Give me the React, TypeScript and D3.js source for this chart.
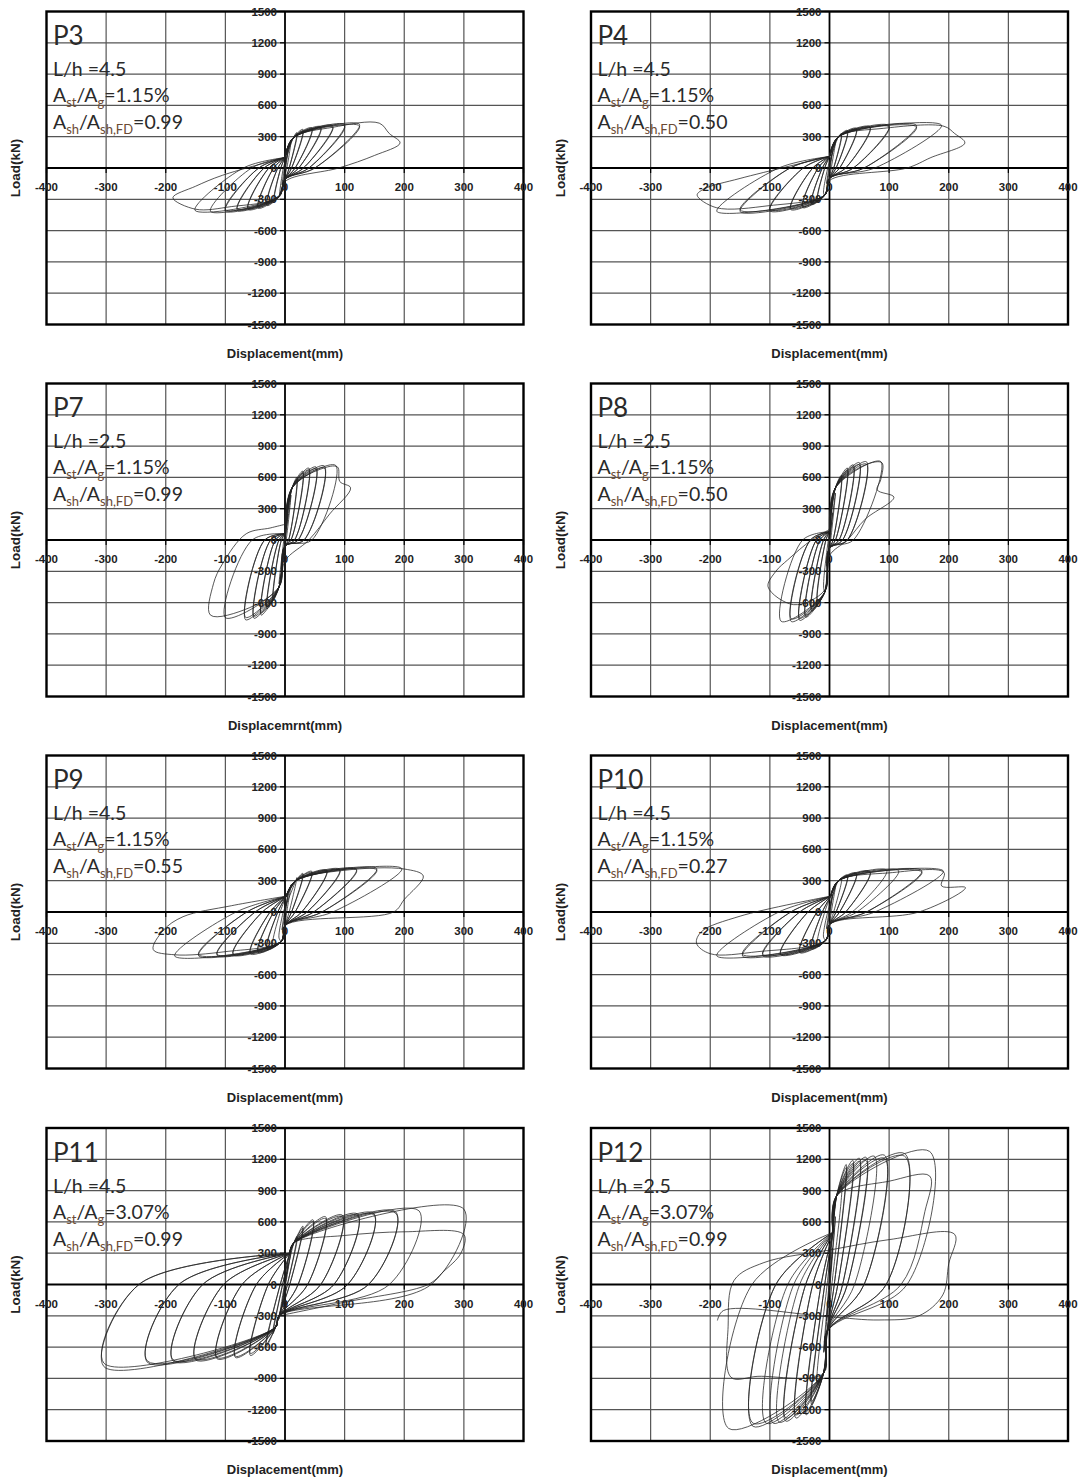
import React from "react";
import * as d3 from "d3";

type Pt = [number, number];
// [peak disp +, peak load +, zero-load disp after unloading +, peak disp -, peak load -, zero-load disp after unloading -]
type Cycle = [number, number, number, number, number, number];

const dispTicks = [-400, -300, -200, -100, 0, 100, 200, 300, 400];
const loadTicks = [-1500, -1200, -900, -600, -300, 0, 300, 600, 900, 1200, 1500];

const specimens = ["P3", "P4", "P7", "P8", "P9", "P10", "P11", "P12"];
const slenderness = ["4.5", "4.5", "2.5", "2.5", "4.5", "4.5", "4.5", "2.5"];
const steelRatio = ["1.15%", "1.15%", "1.15%", "1.15%", "1.15%", "1.15%", "3.07%", "3.07%"];
const hoopRatio = ["0.99", "0.50", "0.99", "0.50", "0.55", "0.27", "0.99", "0.99"];
const xTitles = [
  "Displacement(mm)", "Displacement(mm)",
  "Displacemrnt(mm)", "Displacement(mm)",
  "Displacement(mm)", "Displacement(mm)",
  "Displacement(mm)", "Displacement(mm)",
];

// pinch point +, knee +, pinch point -, knee -  (disp, load)
const p3Spine = [0, 100, 14, 290, 0, -110, -10, -270];
const p4Spine = [0, 110, 15, 300, 0, -100, -8, -260];
const p7Spine = [0, 60, 12, 500, 0, -60, -10, -450];
const p8Spine = [0, 80, 10, 500, 0, -80, -8, -500];
const p9Spine = [2, 150, 18, 300, 0, -130, -6, -280];
const p10Spine = [2, 150, 15, 300, 0, -120, -6, -270];
const p11Spine = [8, 300, 15, 400, -10, -300, -16, -410];
const p12Spine = [6, 500, 12, 850, -4, -450, -10, -850];

const p3Cycles: Cycle[] = [
  [5, 170, 1, -5, -160, -1], [10, 260, 3, -9, -250, -3],
  [20, 340, 7, -18, -320, -7], [20, 325, 7, -18, -305, -7],
  [30, 370, 11, -30, -360, -12], [30, 355, 11, -30, -345, -12],
  [45, 385, 17, -45, -385, -19], [45, 372, 17, -45, -372, -19],
  [60, 395, 23, -62, -398, -27], [60, 382, 23, -62, -385, -27],
  [80, 405, 31, -80, -405, -35], [80, 392, 31, -80, -392, -35],
  [100, 415, 40, -100, -412, -44], [100, 400, 40, -100, -398, -44],
  [125, 418, 50, -125, -415, -56], [125, 402, 50, -151, -405, -70],
];
const p3Tail: Pt[] = [[14, 290], [80, 390], [158, 430], [175, 330], [193, 240], [150, 120], [90, 0], [0, -130], [-10, -280], [-90, -370], [-150, -395], [-188, -285], [-150, -175], [-105, -70], [0, 100]];

const p4Cycles: Cycle[] = [
  [5, 170, 1, -5, -150, -1], [10, 250, 3, -10, -240, -3],
  [20, 330, 7, -20, -320, -8], [20, 318, 7, -20, -308, -8],
  [30, 360, 11, -30, -350, -12], [30, 348, 11, -30, -340, -12],
  [45, 380, 17, -45, -380, -19], [45, 368, 17, -45, -368, -19],
  [68, 395, 27, -65, -398, -28], [68, 384, 27, -65, -386, -28],
  [100, 405, 40, -100, -410, -44], [100, 392, 40, -100, -398, -44],
  [146, 408, 58, -150, -418, -66], [146, 392, 58, -150, -402, -66],
  [188, 410, 76, -189, -415, -85],
];
const p4Tail: Pt[] = [[15, 300], [90, 380], [192, 400], [210, 330], [227, 240], [170, 100], [130, 0], [0, -120], [-8, -260], [-100, -360], [-190, -380], [-222, -260], [-210, -200], [-150, -100], [0, 110]];

const p7Cycles: Cycle[] = [
  [5, 250, 0, -5, -230, 0], [10, 430, 2, -10, -420, -2],
  [20, 600, 6, -20, -580, -6], [20, 580, 6, -20, -560, -6],
  [30, 660, 10, -30, -660, -10], [30, 640, 10, -30, -640, -10],
  [40, 690, 16, -40, -720, -16], [40, 672, 16, -40, -700, -16],
  [52, 700, 22, -52, -750, -24], [52, 682, 22, -52, -730, -24],
  [66, 710, 32, -66, -765, -34], [66, 690, 32, -66, -742, -34],
  [85, 715, 45, -100, -745, -55],
];
const p7Tail: Pt[] = [[12, 500], [60, 680], [88, 700], [92, 560], [110, 500], [75, 250], [40, 0], [0, -200], [-10, -450], [-60, -650], [-125, -720], [-120, -420], [-105, -230], [-65, 60], [-25, 115], [0, 150]];

const p8Cycles: Cycle[] = [
  [5, 260, 0, -5, -250, 0], [10, 450, 2, -10, -440, -2],
  [20, 620, 6, -20, -600, -6], [20, 600, 6, -20, -580, -6],
  [30, 690, 10, -30, -680, -10], [30, 670, 10, -30, -660, -10],
  [40, 720, 16, -40, -740, -16], [40, 700, 16, -40, -720, -16],
  [50, 742, 22, -50, -770, -22], [50, 722, 22, -50, -750, -22],
  [62, 750, 30, -64, -782, -32], [62, 728, 30, -64, -755, -32],
  [86, 752, 40, -81, -780, -45],
];
const p8Tail: Pt[] = [[10, 500], [60, 720], [88, 740], [86, 580], [80, 480], [108, 410], [60, 200], [30, 0], [0, -150], [-8, -480], [-60, -620], [-103, -450], [-90, -300], [-70, -190], [-30, 0], [0, 100]];

const p9Cycles: Cycle[] = [
  [5, 180, 1, -5, -170, -1], [10, 260, 3, -10, -250, -3],
  [20, 330, 7, -20, -330, -8], [30, 370, 11, -30, -360, -12],
  [30, 358, 11, -30, -348, -12], [45, 390, 17, -45, -388, -19],
  [45, 378, 17, -45, -376, -19], [70, 400, 28, -58, -402, -25],
  [70, 390, 28, -58, -390, -25], [92, 408, 37, -87, -410, -38],
  [92, 398, 37, -87, -400, -38], [120, 410, 48, -114, -415, -50],
  [120, 400, 48, -114, -405, -50], [154, 415, 62, -145, -420, -64],
  [154, 402, 62, -145, -408, -64], [196, 415, 80, -185, -422, -82],
];
const p9Tail: Pt[] = [[18, 300], [100, 400], [200, 412], [232, 345], [200, 120], [182, 0], [0, -130], [-6, -280], [-100, -380], [-185, -410], [-221, -360], [-204, -175], [-171, -45], [-90, 60], [0, 150]];

const p10Cycles: Cycle[] = [
  [5, 170, 1, -5, -160, -1], [10, 250, 3, -10, -240, -3],
  [20, 320, 7, -20, -320, -8], [30, 355, 11, -30, -355, -12],
  [30, 345, 11, -30, -345, -12], [45, 375, 17, -50, -390, -21],
  [45, 365, 17, -50, -380, -21], [68, 390, 27, -82, -410, -36],
  [68, 380, 27, -82, -400, -36], [96, 400, 38, -112, -420, -50],
  [116, 395, 46, -112, -405, -50], [155, 395, 62, -146, -422, -65],
  [155, 382, 62, -146, -405, -65], [191, 392, 76, -189, -420, -85],
];
const p10Tail: Pt[] = [[15, 300], [100, 375], [192, 380], [188, 250], [228, 234], [150, 0], [0, -120], [-6, -270], [-120, -380], [-200, -400], [-223, -300], [-215, -190], [-150, -40], [0, 150]];

const p11Cycles: Cycle[] = [
  [5, 200, 0, -5, -200, 0], [10, 320, 1, -10, -330, -1],
  [20, 460, 4, -20, -470, -4], [20, 440, 4, -20, -450, -4],
  [30, 560, 8, -32, -600, -8], [30, 540, 8, -32, -580, -8],
  [47, 620, 22, -58, -680, -28], [47, 600, 22, -58, -660, -28],
  [68, 650, 38, -83, -700, -48], [68, 632, 38, -83, -688, -48],
  [96, 665, 60, -114, -712, -72], [96, 650, 60, -114, -700, -72],
  [122, 675, 82, -150, -722, -103], [122, 660, 82, -150, -710, -103],
  [149, 682, 105, -188, -732, -138], [149, 668, 105, -188, -720, -138],
  [186, 695, 140, -231, -745, -178], [186, 682, 140, -231, -732, -178],
  [225, 705, 175, -304, -785, -245], [300, 722, 245, -304, -752, -245],
];
const p11Tail: Pt[] = [[15, 400], [100, 470], [200, 505], [300, 478], [295, 300], [265, 120], [240, 0], [100, -170], [-10, -300]];

const p12Cycles: Cycle[] = [
  [5, 350, 0, -5, -350, 0], [10, 650, 1, -10, -650, -1],
  [20, 950, 4, -20, -950, -4], [28, 1150, 8, -30, -1150, -8],
  [28, 1120, 8, -30, -1120, -8], [39, 1190, 14, -39, -1250, -14],
  [39, 1160, 14, -39, -1220, -14], [50, 1210, 22, -56, -1280, -28],
  [50, 1180, 22, -56, -1250, -28], [61, 1220, 30, -73, -1310, -40],
  [61, 1190, 30, -73, -1280, -40], [75, 1230, 42, -84, -1320, -50],
  [92, 1240, 58, -94, -1330, -60], [92, 1210, 58, -106, -1330, -70],
  [126, 1255, 95, -128, -1360, -90], [126, 1230, 95, -128, -1330, -90],
  [168, 1275, 130, -169, -1380, -130],
];
const p12Tail: Pt[] = [[12, 850], [100, 990], [168, 1040], [160, 700], [120, 0], [-4, -450], [-10, -850], [-120, -880], [-165, -890], [-170, -400], [-160, 40], [-110, 210], [0, 330], [100, 430], [210, 480], [200, 200], [190, -100], [150, -300], [83, -340], [0, -310], [-178, -250], [-188, -345]];

const cycleSets = [p3Cycles, p4Cycles, p7Cycles, p8Cycles, p9Cycles, p10Cycles, p11Cycles, p12Cycles];
const spineSets = [p3Spine, p4Spine, p7Spine, p8Spine, p9Spine, p10Spine, p11Spine, p12Spine];
const tailSets = [p3Tail, p4Tail, p7Tail, p8Tail, p9Tail, p10Tail, p11Tail, p12Tail];

// layout
const colZero = [285, 829.5];
const rowZero = [168, 540, 912, 1284.5];
const halfW = 238.5;
const halfH = 156.5;

function buildLoops(cycles: Cycle[], spine: number[], tail: Pt[]): Pt[][] {
  const [pdP, pfP, kdP, kfP, pdN, pfN, kdN, kfN] = spine;
  const loops: Pt[][] = [];
  let last: Pt = [0, 0];
  cycles.forEach(([dp, fp, rp, dn, fn, rn]) => {
    const pts: Pt[] = [last];
    if (dp > kdP) pts.push([kdP, kfP]);
    pts.push([dp, fp], [rp, 0]);
    if (dn < kdN) pts.push([pdN, pfN], [kdN, kfN]);
    pts.push([dn, fn], [rn, 0]);
    if (dp > kdP) pts.push([pdP, pfP]);
    last = pts[pts.length - 1];
    loops.push(pts);
  });
  loops.push([last, ...tail]);
  return loops;
}

const tickFont = "'Liberation Sans', Arial, sans-serif";
const noteFont = "Lato, 'Open Sans', sans-serif";

function Panel({ i }: { i: number }) {
  const cx = colZero[i % 2];
  const cy = rowZero[Math.floor(i / 2)];
  const x = d3.scaleLinear().domain([-400, 400]).range([cx - halfW, cx + halfW]);
  const y = d3.scaleLinear().domain([-1500, 1500]).range([cy + halfH, cy - halfH]);
  const left = x(-400);
  const top = y(1500);
  const line = d3
    .line<Pt>()
    .x((d) => x(d[0]))
    .y((d) => y(d[1]))
    .curve(d3.curveCatmullRom.alpha(0.5));
  const loops = buildLoops(cycleSets[i], spineSets[i], tailSets[i]);
  const subColor = "#6b4a33";

  return (
    <g>
      {/* grid */}
      {dispTicks.filter((v) => Math.abs(v) < 400 && v !== 0).map((v) => (
        <line key={"gx" + v} x1={x(v)} x2={x(v)} y1={y(1500)} y2={y(-1500)} stroke="#555" strokeWidth={1.2} />
      ))}
      {loadTicks.filter((v) => Math.abs(v) < 1500 && v !== 0).map((v) => (
        <line key={"gy" + v} x1={x(-400)} x2={x(400)} y1={y(v)} y2={y(v)} stroke="#555" strokeWidth={1.2} />
      ))}
      {/* axes */}
      <line x1={x(-400)} x2={x(400)} y1={y(0)} y2={y(0)} stroke="#000" strokeWidth={1.8} />
      <line x1={x(0)} x2={x(0)} y1={y(1500)} y2={y(-1500)} stroke="#000" strokeWidth={1.8} />
      {loadTicks.map((v) => (
        <line key={"ty" + v} x1={x(0) - 5} x2={x(0)} y1={y(v)} y2={y(v)} stroke="#000" strokeWidth={1.2} />
      ))}
      {dispTicks.map((v) => (
        <line key={"tx" + v} x1={x(v)} x2={x(v)} y1={y(0)} y2={y(0) + 5} stroke="#000" strokeWidth={1.2} />
      ))}
      {/* hysteresis loops */}
      {loops.map((pts, k) => (
        <path key={"l" + k} d={line(pts) || ""} fill="none" stroke="#222" strokeWidth={0.9} strokeOpacity={0.85} />
      ))}
      {/* frame */}
      <rect x={left} y={top} width={x(400) - left} height={y(-1500) - top} fill="none" stroke="#000" strokeWidth={2.4} />
      {/* tick labels */}
      {loadTicks.map((v) => (
        <text key={"ly" + v} x={x(0) - 8} y={y(v)} textAnchor="end" dominantBaseline="central"
          fontFamily={tickFont} fontWeight="bold" fontSize={11.5} fill="#222">{v}</text>
      ))}
      {dispTicks.map((v) => (
        <text key={"lx" + v} x={x(v)} y={y(0) + 19} textAnchor="middle" dominantBaseline="central"
          fontFamily={tickFont} fontWeight="bold" fontSize={11.5} fill="#222">{v}</text>
      ))}
      {/* titles */}
      <text x={cx} y={y(-1500) + 33} textAnchor="middle" fontFamily={tickFont} fontWeight="bold" fontSize={13} fill="#222">
        {xTitles[i]}
      </text>
      <text transform={`translate(${left - 31},${cy}) rotate(-90)`} textAnchor="middle" dominantBaseline="central"
        fontFamily={tickFont} fontWeight="bold" fontSize={13.5} fill="#222">Load(kN)</text>
      {/* annotations */}
      <g fontFamily={noteFont} fill="#2a2a2a">
        <text x={left + 6.5} y={top + 33.5} fontSize={26}>{specimens[i]}</text>
        <text x={left + 6.5} y={top + 64.5} fontSize={19.5}>L/h ={slenderness[i]}</text>
        <text x={left + 6.5} y={top + 90.5} fontSize={19.5}>
          A<tspan fontSize={13} dy={5} fill={subColor}>st</tspan>
          <tspan dy={-5}>/A</tspan>
          <tspan fontSize={13} dy={5} fill={subColor}>g</tspan>
          <tspan dy={-5}>={steelRatio[i]}</tspan>
        </text>
        <text x={left + 6.5} y={top + 117.5} fontSize={19.5}>
          A<tspan fontSize={13} dy={5} fill={subColor}>sh</tspan>
          <tspan dy={-5}>/A</tspan>
          <tspan fontSize={13} dy={5} fill={subColor}>sh,FD</tspan>
          <tspan dy={-5}>={hoopRatio[i]}</tspan>
        </text>
      </g>
    </g>
  );
}

export default function App() {
  return (
    <svg width={1083} height={1483} style={{ position: "absolute", left: 0, top: 0, background: "#fff" }}>
      <rect width={1083} height={1483} fill="#fff" />
      {specimens.map((_, i) => (
        <Panel key={i} i={i} />
      ))}
    </svg>
  );
}
